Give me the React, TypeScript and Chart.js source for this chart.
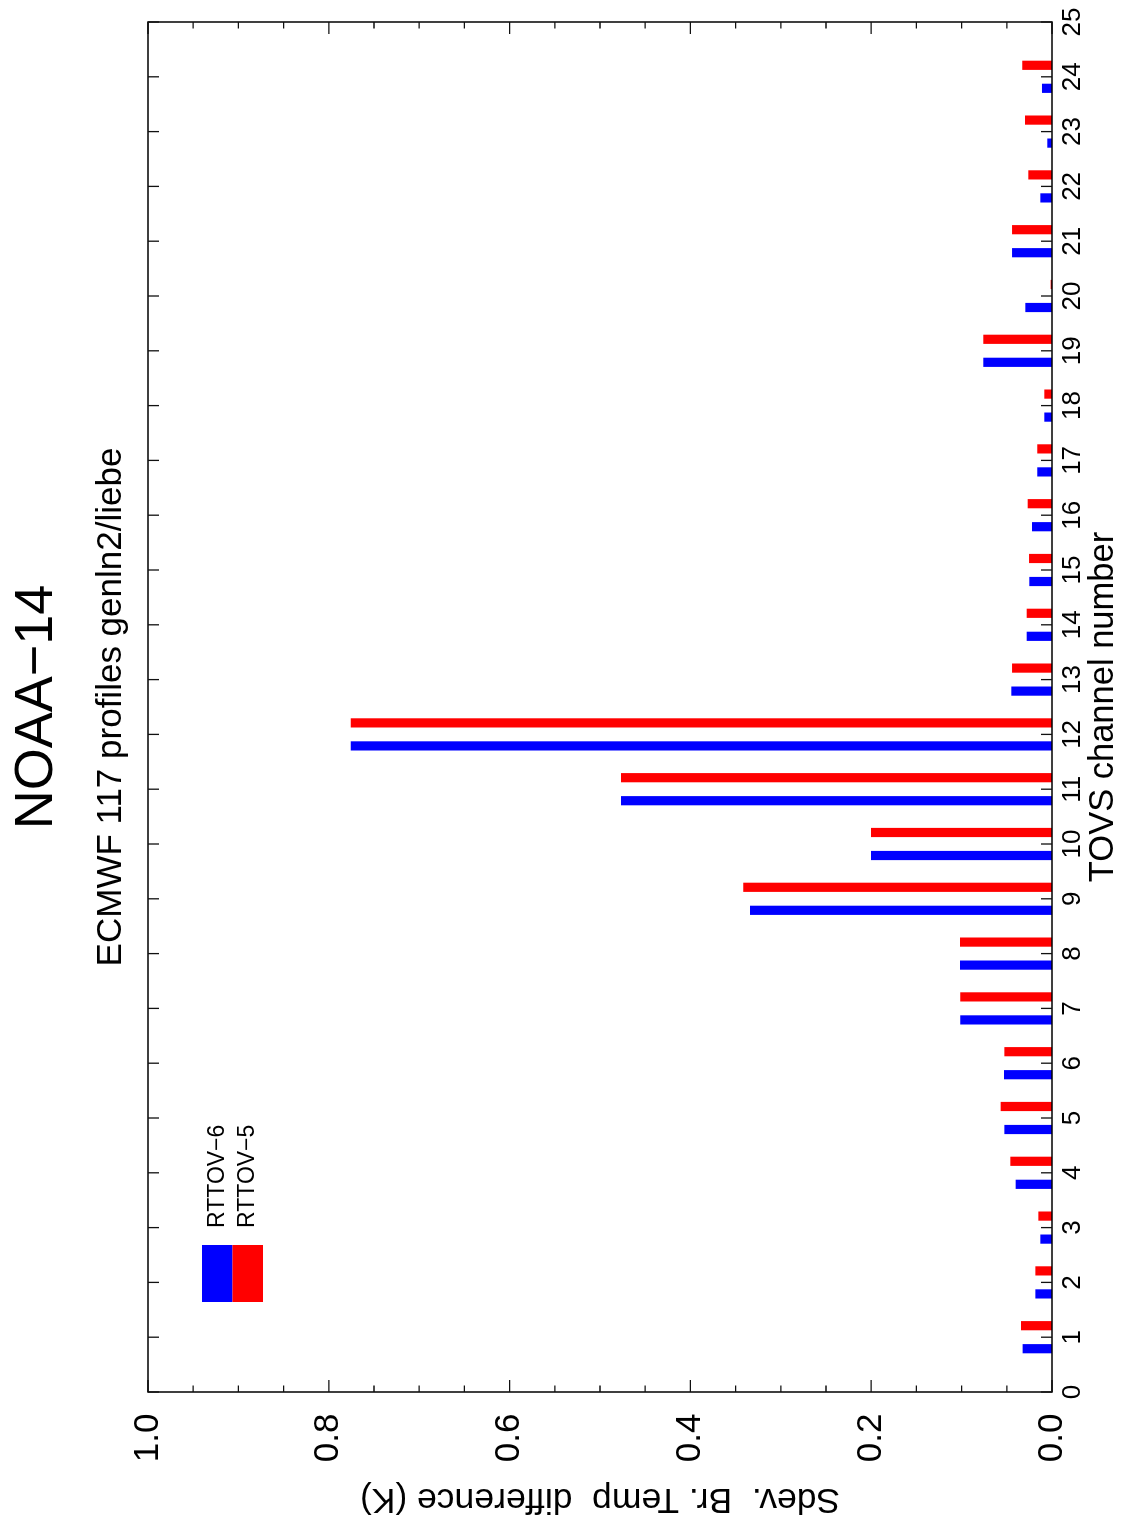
import React, { useEffect, useRef } from 'react';
import { Chart, registerables } from 'chart.js';

Chart.register(...registerables);

// ---- data ----
const channels = [1, 2, 3, 4, 5, 6, 7, 8, 9, 10, 11, 12, 13, 14, 15, 16, 17, 18, 19, 20, 21, 22, 23, 24];
const rttov6 = [0.0325, 0.0184, 0.0129, 0.0402, 0.0527, 0.0531, 0.1014, 0.1018, 0.3341, 0.2002, 0.4768, 0.7758,
  0.045, 0.028, 0.0251, 0.0221, 0.0163, 0.0085, 0.076, 0.0295, 0.0442, 0.0129, 0.0052, 0.0111];
const rttov5 = [0.0343, 0.0184, 0.0151, 0.0461, 0.0568, 0.0527, 0.1014, 0.1018, 0.3415, 0.2002, 0.4768, 0.7758,
  0.0442, 0.028, 0.0254, 0.0269, 0.0163, 0.0085, 0.076, 0.0015, 0.0442, 0.0262, 0.0299, 0.0329];
const seriesLabels = ['RTTOV\u22126', 'RTTOV\u22125'];
const seriesColors = ['#0000ff', '#ff0000'];
const channelRange = [0, 25];
const valueRange = [0, 1];
const valueMajorStep = 0.2;
const valueMinorStep = 0.05;
const titleText = 'NOAA\u221214';
const subtitleText = 'ECMWF 117 profiles genln2/liebe';
const xTitleText = 'TOVS channel number';
const yTitleText = 'Sdev.  Br. Temp  difference (K)';

const W = 1521;
const H = 1124;
const FAMILY = '"Liberation Sans", Arial, Helvetica, sans-serif';

const decor = {
  id: 'decor',
  afterDraw(chart: any) {
    const { ctx, chartArea: a, scales } = chart;
    const xs = scales.x;
    const ys = scales.y;
    ctx.save();
    // frame
    ctx.strokeStyle = '#000';
    ctx.lineWidth = 1.5;
    ctx.strokeRect(a.left, a.top, a.right - a.left, a.bottom - a.top);
    // inward ticks
    ctx.lineWidth = 1.3;
    ctx.strokeStyle = '#111';
    ctx.beginPath();
    for (let c = channelRange[0]; c <= channelRange[1]; c++) {
      const px = xs.getPixelForValue(c);
      ctx.moveTo(px, a.bottom);
      ctx.lineTo(px, a.bottom - 11);
      ctx.moveTo(px, a.top);
      ctx.lineTo(px, a.top + 11);
    }
    const n = Math.round((valueRange[1] - valueRange[0]) / valueMinorStep);
    const perMajor = Math.round(valueMajorStep / valueMinorStep);
    for (let i = 0; i <= n; i++) {
      const py = ys.getPixelForValue(valueRange[0] + i * valueMinorStep);
      const len = i % perMajor === 0 ? 12 : 6.5;
      ctx.moveTo(a.left, py);
      ctx.lineTo(a.left + len, py);
      ctx.moveTo(a.right, py);
      ctx.lineTo(a.right - len, py);
    }
    ctx.stroke();

    // titles
    const cx = (a.left + a.right) / 2;
    ctx.fillStyle = '#000';
    ctx.textAlign = 'center';
    ctx.textBaseline = 'alphabetic';
    ctx.font = `54px ${FAMILY}`;
    ctx.fillText(titleText, cx, 52);
    ctx.font = `35px ${FAMILY}`;
    ctx.fillText(subtitleText, cx, 121);

    // legend
    const boxX = a.left + 90;
    const boxW = 57;
    const boxH = 30.5;
    const boxY = a.top + 54;
    ctx.textAlign = 'left';
    ctx.textBaseline = 'middle';
    ctx.font = `23px ${FAMILY}`;
    seriesLabels.forEach((lab, i) => {
      ctx.fillStyle = seriesColors[i];
      ctx.fillRect(boxX, boxY + i * boxH, boxW, boxH);
      ctx.fillStyle = '#000';
      ctx.fillText(lab, boxX + boxW + 17, boxY + i * boxH + boxH / 2);
    });
    ctx.restore();
  },
};

export default function App() {
  const ref = useRef<HTMLCanvasElement>(null);

  useEffect(() => {
    document.body.style.margin = '0';
    const canvas = ref.current;
    if (!canvas) return;
    const chart = new Chart(canvas, {
      type: 'bar',
      data: {
        datasets: [
          {
            label: seriesLabels[0],
            data: channels.map((c, i) => ({ x: c, y: rttov6[i] })),
            backgroundColor: seriesColors[0],
            borderWidth: 0,
            categoryPercentage: 0.84,
            barPercentage: 0.4,
          },
          {
            label: seriesLabels[1],
            data: channels.map((c, i) => ({ x: c, y: rttov5[i] })),
            backgroundColor: seriesColors[1],
            borderWidth: 0,
            categoryPercentage: 0.84,
            barPercentage: 0.4,
          },
        ],
      } as any,
      options: {
        responsive: false,
        animation: false,
        devicePixelRatio: 1,
        layout: { padding: { top: 148, right: 22, left: 0, bottom: 0 } },
        plugins: {
          legend: { display: false },
          tooltip: { enabled: false },
          title: { display: false },
        },
        scales: {
          x: {
            type: 'linear',
            min: channelRange[0],
            max: channelRange[1],
            offset: false,
            grid: { display: false, drawTicks: false, offset: false },
            border: { display: false },
            ticks: {
              stepSize: 1,
              autoSkip: false,
              maxRotation: 0,
              minRotation: 0,
              padding: 5,
              color: '#000',
              font: { family: FAMILY, size: 26 },
              callback: (v: any) => String(v),
            },
            title: {
              display: true,
              text: xTitleText,
              color: '#000',
              font: { family: FAMILY, size: 34.5 },
              padding: { top: 0, bottom: 0.2 },
            },
            afterFit: (s: any) => {
              s.height = 72;
            },
          },
          y: {
            type: 'linear',
            min: valueRange[0],
            max: valueRange[1],
            grid: { display: false, drawTicks: false },
            border: { display: false },
            ticks: {
              stepSize: valueMajorStep,
              padding: 21.5,
              color: '#000',
              font: { family: FAMILY, size: 35 },
              callback: (v: any) => Number(v).toFixed(1),
            },
            title: {
              display: true,
              text: yTitleText,
              color: '#000',
              font: { family: FAMILY, size: 35.5 },
              padding: { top: 0.5, bottom: 0 },
            },
            afterFit: (s: any) => {
              s.width = 129;
            },
          },
        },
      } as any,
      plugins: [decor],
    });
    return () => chart.destroy();
  }, []);

  return (
    <div style={{ position: 'absolute', left: 0, top: 0, width: 1124, height: 1521, overflow: 'hidden', background: '#fff' }}>
      <div
        style={{
          position: 'absolute',
          left: 0,
          top: 0,
          width: W,
          height: H,
          transformOrigin: '0 0',
          transform: `translateY(${W}px) rotate(-90deg)`,
        }}
      >
        <canvas ref={ref} width={W} height={H} style={{ display: 'block', width: W, height: H }} />
      </div>
    </div>
  );
}
